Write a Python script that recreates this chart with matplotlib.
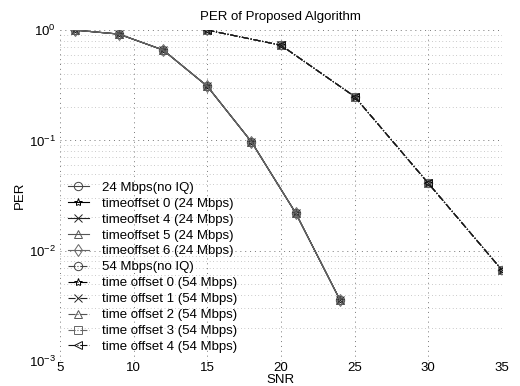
import matplotlib
matplotlib.use("Agg")
import matplotlib.pyplot as plt
import numpy as np

plt.rcParams['font.family'] = ['Liberation Sans', 'DejaVu Sans']

snr_24 = [6, 9, 12, 15, 18, 21, 24]
per_24 = [1.0, 0.92, 0.66, 0.31, 0.097, 0.022, 0.0036]
snr_54 = [15, 20, 25, 30, 35]
per_54 = [1.0, 0.73, 0.25, 0.041, 0.0067]

labels_24 = ['24 Mbps(no IQ)', 'timeoffset 0 (24 Mbps)', 'timeoffset 4 (24 Mbps)',
             'timeoffset 5 (24 Mbps)', 'timeoffset 6 (24 Mbps)']
labels_54 = ['54 Mbps(no IQ)', 'time offset 0 (54 Mbps)', 'time offset 1 (54 Mbps)',
             'time offset 2 (54 Mbps)', 'time offset 3 (54 Mbps)', 'time offset 4 (54 Mbps)']
markers_24 = ['o', '*', 'x', '^', 'd']
markers_54 = ['o', '*', 'x', '^', 's', '<']

fig = plt.figure(figsize=(5.2, 3.86), dpi=100)
ax = fig.add_axes([0.1154, 0.0648, 0.8496, 0.8572])

greys = ['#444444', '#000000', '#222222', '#555555', '#666666', '#111111']
for i, (lab, m) in enumerate(zip(labels_24, markers_24)):
    ax.semilogy(snr_24, per_24, linestyle='-', color=greys[i % len(greys)], lw=0.8,
                marker=m, markersize=6, markerfacecolor='none', markeredgewidth=0.7,
                label=lab)
for i, (lab, m) in enumerate(zip(labels_54, markers_54)):
    ax.semilogy(snr_54, per_54, linestyle='-.', color=greys[i % len(greys)], lw=0.8,
                marker=m, markersize=6, markerfacecolor='none', markeredgewidth=0.7,
                label=lab)

ax.set_xlim(5, 35)
ax.set_ylim(1e-3, 1.0)
ax.set_xticks([5, 10, 15, 20, 25, 30, 35])
ax.grid(True, which='major', linestyle=(0, (1, 4)), color='#777777', lw=0.7)
ax.grid(True, which='minor', linestyle=(0, (1, 4)), color='#999999', lw=0.5)
for s in ax.spines.values():
    s.set_visible(False)
ax.tick_params(axis='both', which='both', length=0, labelsize=9.5)
ax.tick_params(axis='x', pad=1)
ax.tick_params(axis='y', pad=3)
ax.set_title('PER of Proposed Algorithm', fontsize=9.5, pad=7)
ax.set_xlabel('SNR', fontsize=9.5, labelpad=0)
ax.set_ylabel('PER', fontsize=9.5, labelpad=2)

leg = ax.legend(loc='lower left', fontsize=9.5, frameon=False, handlelength=1.6,
                labelspacing=0.28, borderaxespad=0.4, handletextpad=1.0,
                borderpad=0.2)

fig.savefig('out.png', dpi=100)
